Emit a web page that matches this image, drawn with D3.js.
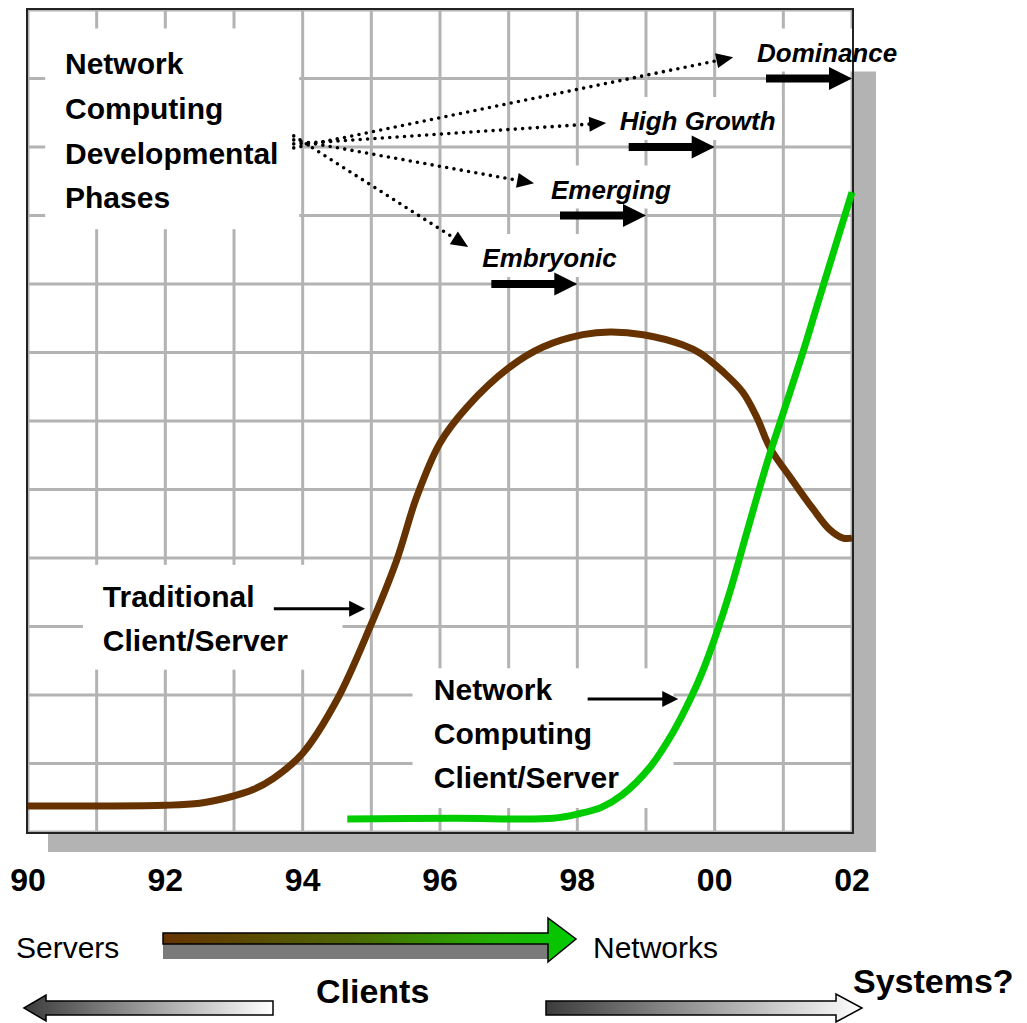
<!DOCTYPE html>
<html lang="en">
<head>
<meta charset="utf-8">
<title>Network Computing Developmental Phases</title>
<script src="https://d3js.org/d3.v7.min.js"></script>
<style>
body { margin: 0; background: #fff; }
text { font-family: "Liberation Sans", Arial, sans-serif; fill: #000; }
</style>
</head>
<body>
<svg id="chart" width="1027" height="1023"></svg>
<script>
// traditional client/server curve (year, level)
var tradYears = [1990, 1991, 1992, 1992.5, 1992.9, 1993.28, 1993.57, 1994.0, 1994.5, 1994.98, 1995.37, 1995.66, 1996.0, 1996.39, 1997.02, 1997.5, 1998.08, 1998.48, 1998.96, 1999.54, 1999.79, 2000.12, 2000.41, 2000.62, 2000.81, 2001.1, 2001.43, 2001.68, 2001.87, 2002];
var tradValues = [0.38, 0.38, 0.39, 0.42, 0.5, 0.62, 0.78, 1.15, 1.93, 2.99, 3.97, 4.89, 5.68, 6.2, 6.79, 7.08, 7.26, 7.3, 7.26, 7.11, 6.99, 6.72, 6.42, 6.04, 5.6, 5.18, 4.72, 4.41, 4.29, 4.29];

// network computing client/server curve
var netYears = [1994.65, 1996.2, 1997.65, 1998.04, 1998.35, 1998.65, 1999.06, 1999.39, 1999.64, 1999.83, 2000.03, 2000.22, 2000.47, 2000.76, 2000.95, 2001.29, 2001.49, 2002];
var netValues = [0.19, 0.2, 0.2, 0.27, 0.36, 0.54, 0.95, 1.45, 1.93, 2.36, 2.91, 3.5, 4.38, 5.38, 5.97, 7.02, 7.68, 9.34];

var tickYears = [1990, 1992, 1994, 1996, 1998, 2000, 2002];
var tickLabels = ["90", "92", "94", "96", "98", "00", "02"];

// developmental phases
var phaseNames = ["Embryonic", "Emerging", "High Growth", "Dominance"];
var phaseEnd = [1998, 1999, 2000, 2002];
var phaseLevel = [8, 9, 10, 11];
var pointerYear = [1996.41, 1997.37, 1998.42, 2000.27];
var pointerLevel = [8.54, 9.47, 10.35, 11.31];

var titleLines = ["Network", "Computing", "Developmental", "Phases"];
var tradLines = ["Traditional", "Client/Server"];
var netLines = ["Network", "Computing", "Client/Server"];

var svg = d3.select("#chart");
var plotLeft = 28, plotTop = 10, plotRight = 852, plotBottom = 832;

var x = d3.scaleLinear().domain([1990, 2002]).range([plotLeft, plotRight]);
var y = d3.scaleLinear().domain([0, 12]).range([plotBottom, plotTop]);

var defs = svg.append("defs");
var g1 = defs.append("linearGradient").attr("id", "bgGrad");
g1.append("stop").attr("offset", "0").attr("stop-color", "#663300");
g1.append("stop").attr("offset", "0.45").attr("stop-color", "#4d6600");
g1.append("stop").attr("offset", "0.8").attr("stop-color", "#22b000");
g1.append("stop").attr("offset", "1").attr("stop-color", "#00cc00");
var g2 = defs.append("linearGradient").attr("id", "grayGrad");
g2.append("stop").attr("offset", "0").attr("stop-color", "#3c3c3c");
g2.append("stop").attr("offset", "1").attr("stop-color", "#ffffff");

// shadow + background
svg.append("rect")
    .attr("x", plotLeft + 20).attr("y", plotTop + 20)
    .attr("width", plotRight - plotLeft + 4).attr("height", plotBottom - plotTop)
    .attr("fill", "#b3b3b3");
svg.append("rect")
    .attr("x", plotLeft).attr("y", plotTop)
    .attr("width", plotRight - plotLeft).attr("height", plotBottom - plotTop)
    .attr("fill", "#fff");

// grid
var grid = svg.append("g").attr("stroke", "#b3b3b3").attr("stroke-width", 3);
grid.selectAll(".v").data(d3.range(1990, 2003)).enter().append("line")
    .attr("x1", d => x(d)).attr("x2", d => x(d))
    .attr("y1", plotTop).attr("y2", plotBottom);
grid.selectAll(".h").data(d3.range(0, 13)).enter().append("line")
    .attr("y1", d => y(d)).attr("y2", d => y(d))
    .attr("x1", plotLeft).attr("x2", plotRight);

// white label boxes that hide the grid
var boxes = svg.append("g");
function box(x0, y0, x1, y1) {
    boxes.append("rect").attr("x", x0).attr("y", y0)
        .attr("width", x1 - x0).attr("height", y1 - y0).attr("fill", "#fff");
}
box(x(1990.25), y(11.73), x(1993.95), y(8.8));
box(x(1990.8), y(3.90), x(1994.58), y(2.37));
box(x(1995.6), y(2.39), x(1999.4), y(0.35));

// frame
svg.append("rect")
    .attr("x", plotLeft - 1).attr("y", plotTop - 1)
    .attr("width", plotRight - plotLeft + 2).attr("height", plotBottom - plotTop + 2)
    .attr("fill", "none").attr("stroke", "#222").attr("stroke-width", 2);

// curves
var line = d3.line().x(d => x(d[0])).y(d => y(d[1])).curve(d3.curveCatmullRom.alpha(0.5));
svg.append("path")
    .datum(tradYears.map((d, i) => [d, tradValues[i]]))
    .attr("d", line).attr("fill", "none")
    .attr("stroke", "#663300").attr("stroke-width", 7);
svg.append("path")
    .datum(netYears.map((d, i) => [d, netValues[i]]))
    .attr("d", line).attr("fill", "none")
    .attr("stroke", "#00cc00").attr("stroke-width", 7);

// title block
svg.append("g").selectAll("text").data(titleLines).enter().append("text")
    .attr("x", 65).attr("y", (d, i) => 74 + i * 44.8)
    .attr("font-size", 30).attr("font-weight", "bold")
    .text(d => d);

// arrow helper: filled triangle head
function arrowHead(tx, ty, ang, len, wid) {
    var c = Math.cos(ang), s = Math.sin(ang);
    var bx = tx - c * len, by = ty - s * len;
    return [[tx, ty], [bx - s * wid / 2, by + c * wid / 2], [bx + s * wid / 2, by - c * wid / 2]];
}

// phases: bold arrows, labels, dotted pointers
var originX = x(1993.87), originY = y(10.06);
var marks = svg.append("g");
phaseNames.forEach(function(name, i) {
    var ex = x(phaseEnd[i]), ay = y(phaseLevel[i]);
    var sx = ex - 86;
    var lx = sx - 9, ly = ay - 17;
    var t = marks.append("text")
        .attr("x", lx).attr("y", ly)
        .attr("font-size", 26).attr("font-weight", "bold").attr("font-style", "italic")
        .text(name);
    var w = t.node().getComputedTextLength();
    boxes.append("rect")
        .attr("x", lx - 6).attr("y", ly - 33)
        .attr("width", w + 12).attr("height", 43)
        .attr("fill", "#fff");
    marks.append("rect")
        .attr("x", sx).attr("y", ay - 4)
        .attr("width", ex - 22 - sx).attr("height", 8).attr("fill", "#000");
    marks.append("polygon")
        .attr("points", arrowHead(ex, ay, 0, 23, 23).join(" "))
        .attr("fill", "#000");

    // dotted pointer from the title block
    var tx = x(pointerYear[i]), ty = y(pointerLevel[i]);
    var oy = originY - 7 + i * 4;
    var ang = Math.atan2(ty - oy, tx - originX);
    marks.append("line")
        .attr("x1", originX).attr("y1", oy)
        .attr("x2", tx - Math.cos(ang) * 14).attr("y2", ty - Math.sin(ang) * 14)
        .attr("stroke", "#000").attr("stroke-width", 3.6)
        .attr("stroke-linecap", "round").attr("stroke-dasharray", "0 7.4");
    marks.append("polygon")
        .attr("points", arrowHead(tx, ty, ang, 17, 15).join(" "))
        .attr("fill", "#000");
});

// series labels with thin arrows
function seriesLabel(lines, lx, ly, x0, x1, ay) {
    svg.append("g").selectAll("text").data(lines).enter().append("text")
        .attr("x", lx).attr("y", (d, i) => ly + i * 44)
        .attr("font-size", 30).attr("font-weight", "bold")
        .text(d => d);
    svg.append("line")
        .attr("x1", x0).attr("y1", ay).attr("x2", x1 - 14).attr("y2", ay)
        .attr("stroke", "#000").attr("stroke-width", 3);
    svg.append("polygon")
        .attr("points", arrowHead(x1, ay, 0, 16, 16).join(" "))
        .attr("fill", "#000");
}
seriesLabel(tradLines, x(1991.09), 607, x(1993.58), x(1994.91), y(3.26));
seriesLabel(netLines, x(1995.91), 700, x(1998.15), x(1999.47), y(1.94));

// x tick labels
svg.append("g").selectAll("text").data(tickYears).enter().append("text")
    .attr("x", d => x(d)).attr("y", 891)
    .attr("text-anchor", "middle")
    .attr("font-size", 32).attr("font-weight", "bold")
    .text((d, i) => tickLabels[i]);

// bottom: servers -> networks arrow
svg.append("rect").attr("x", 163).attr("y", 944).attr("width", 385).attr("height", 15).attr("fill", "#7a7a7a");
svg.append("path")
    .attr("d", "M163,933 L548,933 L548,918 L576,939 L548,962 L548,944 L163,944 Z")
    .attr("fill", "url(#bgGrad)").attr("stroke", "#000").attr("stroke-width", 1.5);
svg.append("text").attr("x", 16).attr("y", 958).attr("font-size", 30).text("Servers");
svg.append("text").attr("x", 593).attr("y", 958).attr("font-size", 30).text("Networks");

// clients <- / -> systems arrows
svg.append("path")
    .attr("d", "M24,1008 L46,995 L46,1001 L273,1001 L273,1015 L46,1015 L46,1021 Z")
    .attr("fill", "url(#grayGrad)").attr("stroke", "#000").attr("stroke-width", 1.5);
svg.append("path")
    .attr("d", "M546,1001 L836,1001 L836,994 L862,1008 L836,1022 L836,1015 L546,1015 Z")
    .attr("fill", "url(#grayGrad)").attr("stroke", "#000").attr("stroke-width", 1.5);
svg.append("text").attr("x", 316).attr("y", 1003).attr("font-size", 34).attr("font-weight", "bold").text("Clients");
svg.append("text").attr("x", 853).attr("y", 993).attr("font-size", 34).attr("font-weight", "bold").text("Systems?");
</script>
</body>
</html>
